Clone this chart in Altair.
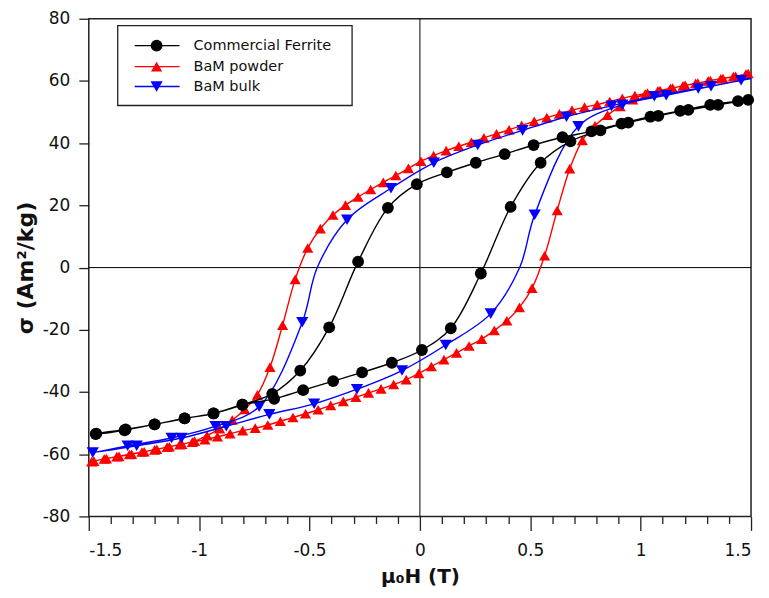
import altair as alt
import pandas as pd

series_names = ["Commercial Ferrite", "BaM powder", "BaM bulk"]
series_colors = ["#000000", "#ff0000", "#0000ff"]
series_shapes = ["circle", "triangle-up", "triangle-down"]
series_sizes = [140, 125, 150]

# ---- Commercial Ferrite: descending branch (from +H) then ascending branch
cf_desc_h = [1.441, 1.315, 1.179, 1.044, 0.913, 0.777, 0.646, 0.515, 0.384, 0.253, 0.122, -0.014,
             -0.145, -0.280, -0.411, -0.542, -0.669, -0.804, -0.935, -1.066, -1.202, -1.338, -1.469]
cf_desc_m = [53.5, 52.3, 50.4, 48.5, 46.3, 43.8, 41.9, 39.4, 36.5, 33.7, 30.6, 26.8,
             19.2, 1.9, -19.2, -33.1, -40.6, -44.1, -46.9, -48.5, -50.4, -52.3, -53.5]
cf_desc_mk = [1] * 23
cf_asc_h = [-1.466, -1.333, -1.202, -1.066, -0.935, -0.804, -0.660, -0.529, -0.393, -0.262, -0.127, 0.009,
            0.140, 0.276, 0.411, 0.547, 0.682, 0.818, 0.944, 1.080, 1.216, 1.351, 1.487]
cf_asc_m = [-53.4, -52.0, -50.4, -48.5, -46.9, -44.1, -42.2, -39.4, -36.5, -33.7, -30.6, -26.5,
            -19.5, -1.9, 19.5, 33.7, 40.6, 44.1, 46.6, 48.8, 50.7, 52.3, 53.9]
cf_asc_mk = [1] * 23

# ---- BaM powder
bp_desc_h = [1.487, 1.430, 1.373, 1.316, 1.259, 1.202, 1.145, 1.088, 1.031, 0.974, 0.917, 0.860, 0.803,
             0.746, 0.689, 0.632, 0.575, 0.518, 0.461, 0.404, 0.347, 0.290, 0.233, 0.176, 0.119, 0.062,
             0.005, -0.052, -0.109, -0.166, -0.223, -0.280, -0.337, -0.394, -0.451, -0.508, -0.565,
             -0.622, -0.679, -0.736, -0.793, -0.850, -0.907, -0.964, -1.021, -1.078, -1.135, -1.192,
             -1.249, -1.306, -1.363, -1.420, -1.477]
bp_desc_m = [62.4, 61.5, 60.8, 60.1, 59.3, 58.6, 57.7, 56.9, 56.1, 55.3, 54.4, 53.4, 52.4,
             51.6, 50.6, 49.4, 48.2, 47.0, 45.7, 44.3, 43.0, 41.7, 40.3, 39.0, 37.6, 36.0,
             34.2, 31.9, 29.6, 27.4, 25.1, 22.7, 20.1, 16.9, 12.5, 6.3, -3.8,
             -18.5, -32.0, -40.9, -45.6, -49.0, -51.8, -54.0, -55.8, -56.8, -57.6, -58.4,
             -59.2, -60.0, -60.7, -61.4, -62.2]
bp_desc_mk = [1] * 53
bp_asc_h = [-1.487, -1.430, -1.373, -1.316, -1.259, -1.202, -1.145, -1.088, -1.031, -0.974, -0.917, -0.860,
            -0.803, -0.746, -0.689, -0.632, -0.575, -0.518, -0.461, -0.404, -0.347, -0.290, -0.233, -0.176,
            -0.119, -0.062, -0.005, 0.052, 0.109, 0.166, 0.223, 0.280, 0.337, 0.394, 0.451, 0.508, 0.565,
            0.622, 0.679, 0.736, 0.793, 0.850, 0.907, 0.964, 1.021, 1.078, 1.135, 1.192,
            1.249, 1.306, 1.363, 1.420, 1.477]
bp_asc_m = [-62.4, -61.5, -60.8, -60.1, -59.3, -58.6, -57.7, -56.9, -56.1, -55.3, -54.4, -53.4,
            -52.4, -51.6, -50.6, -49.4, -48.2, -47.0, -45.7, -44.3, -43.0, -41.7, -40.3, -39.0,
            -37.6, -36.0, -34.0, -31.8, -29.6, -27.4, -25.2, -23.0, -20.2, -17.1, -12.8, -6.6, 3.8,
            18.4, 31.8, 40.9, 45.6, 49.0, 51.8, 54.0, 55.8, 56.8, 57.6, 58.4,
            59.2, 60.0, 60.7, 61.4, 62.2]
bp_asc_mk = [1] * 53

# ---- BaM bulk
bb_desc_h = [1.500, 1.455, 1.261, 1.062, 0.868, 0.664, 0.465, 0.262, 0.063, -0.131, -0.330, -0.465,
             -0.533, -0.728, -0.926, -1.125, -1.324]
bb_desc_m = [61.0, 60.2, 57.6, 55.1, 52.0, 48.5, 44.1, 39.4, 33.7, 25.5, 15.4, 0.0,
             -17.6, -44.7, -51.0, -54.8, -57.3]
bb_desc_mk = [0, 1, 1, 1, 1, 1, 1, 1, 1, 1, 1, 0, 1, 1, 1, 1, 1]
bb_asc_h = [-1.482, -1.283, -1.080, -0.877, -0.682, -0.479, -0.285, -0.081, 0.117, 0.321, 0.452,
            0.520, 0.718, 0.917, 1.116, 1.319, 1.500]
bb_asc_m = [-59.5, -57.3, -54.8, -51.0, -47.2, -43.8, -39.1, -33.1, -24.9, -14.8, 0.0,
            17.0, 45.4, 52.3, 55.4, 58.3, 60.8]
bb_asc_mk = [1, 1, 1, 1, 1, 1, 1, 1, 1, 1, 0, 1, 1, 1, 1, 1, 0]

x_ticks = [-1.5, -1.4, -1.3, -1.2, -1.1, -1.0, -0.9, -0.8, -0.7, -0.6, -0.5, -0.4, -0.3, -0.2, -0.1, 0.0,
           0.1, 0.2, 0.3, 0.4, 0.5, 0.6, 0.7, 0.8, 0.9, 1.0, 1.1, 1.2, 1.3, 1.4, 1.5]
y_ticks = [-80, -60, -40, -20, 0, 20, 40, 60, 80]

branches = {
    "Commercial Ferrite": (cf_desc_h + cf_asc_h, cf_desc_m + cf_asc_m, cf_desc_mk + cf_asc_mk),
    "BaM powder": (bp_desc_h + bp_asc_h, bp_desc_m + bp_asc_m, bp_desc_mk + bp_asc_mk),
    "BaM bulk": (bb_desc_h + bb_asc_h, bb_desc_m + bb_asc_m, bb_desc_mk + bb_asc_mk),
}

rows = []
for name, (hs, ms, mks) in branches.items():
    for i, (h, m, k) in enumerate(zip(hs, ms, mks)):
        rows.append({"series": name, "H": h, "M": m, "idx": i, "mk": k})
df = pd.DataFrame(rows)

xscale = alt.Scale(domain=[-1.5, 1.5], nice=False, zero=False)
yscale = alt.Scale(domain=[-80, 80], nice=False, zero=False)

is_major = "abs(datum.value*2 - round(datum.value*2)) < 0.001"
x_axis = alt.Axis(
    values=x_ticks,
    title="μ₀H (T)",
    tickSize={"condition": {"test": is_major, "value": 14}, "value": 7},
    labelExpr=f"{is_major} ? '' + (round(datum.value*10)/10) : ''",
    grid=False, domain=False, tickColor="#222", tickWidth=1.3,
    labelPadding=12, titlePadding=8, titleFontSize=20,
)
y_axis = alt.Axis(
    values=y_ticks,
    title="σ (Am²/kg)",
    tickSize=10,
    labelExpr="'' + datum.value",
    grid=False, domain=False, tickColor="#222", tickWidth=1.3,
    labelPadding=9, titlePadding=5, titleFontSize=22,
)

zero_x = alt.Chart(pd.DataFrame({"v": [0]})).mark_rule(color="#000", strokeWidth=1).encode(
    x=alt.X("v:Q", scale=xscale, axis=x_axis))
zero_y = alt.Chart(pd.DataFrame({"v": [0]})).mark_rule(color="#000", strokeWidth=1).encode(
    y=alt.Y("v:Q", scale=yscale, axis=y_axis))

layers = [zero_x, zero_y]
draw_order = ["BaM powder", "BaM bulk", "Commercial Ferrite"]
for name in draw_order:
    i = series_names.index(name)
    base = alt.Chart(df).transform_filter(alt.datum.series == name)
    line = base.mark_line(color=series_colors[i], strokeWidth=1.4, interpolate="catmull-rom").encode(
        x=alt.X("H:Q", scale=xscale, axis=x_axis),
        y=alt.Y("M:Q", scale=yscale, axis=y_axis),
        order="idx:Q",
    )
    pts = base.transform_filter(alt.datum.mk == 1).mark_point(
        shape=series_shapes[i], filled=True, opacity=1, size=series_sizes[i], color=series_colors[i]
    ).encode(
        x=alt.X("H:Q", scale=xscale, axis=x_axis),
        y=alt.Y("M:Q", scale=yscale, axis=y_axis),
    )
    layers += [line, pts]

# legend (layout in pixels)
one = pd.DataFrame({"a": [0]})
leg_box = alt.Chart(one).mark_rect(fill="white", stroke="#222", strokeWidth=1.3).encode(
    x=alt.value(29), x2=alt.value(264), y=alt.value(7), y2=alt.value(87))
layers.append(leg_box)
row_y = [27, 48, 68]
for i, name in enumerate(series_names):
    layers.append(alt.Chart(one).mark_rule(color=series_colors[i], strokeWidth=1.4).encode(
        x=alt.value(46), x2=alt.value(91), y=alt.value(row_y[i])))
    layers.append(alt.Chart(one).mark_point(shape=series_shapes[i], filled=True, opacity=1,
                                            size=series_sizes[i], color=series_colors[i]).encode(
        x=alt.value(68), y=alt.value(row_y[i])))
    layers.append(alt.Chart(one).mark_text(align="left", baseline="middle", fontSize=14.5,
                                           font="DejaVu Sans", color="#111").encode(
        x=alt.value(105), y=alt.value(row_y[i]), text=alt.value(name)))

chart = alt.layer(*layers).properties(
    width=664, height=499,
    autosize=alt.AutoSizeParams(type="none"),
    padding={"left": 81, "top": 10, "right": 10, "bottom": 72},
).configure_view(stroke="#222", strokeWidth=1.5).configure_axis(
    labelFont="DejaVu Sans", labelFontSize=17, labelColor="#111",
    titleFont="DejaVu Sans", titleFontWeight="bold", titleColor="#111",
)

chart.save("out.html", embed_options={"renderer": "svg", "actions": False})
